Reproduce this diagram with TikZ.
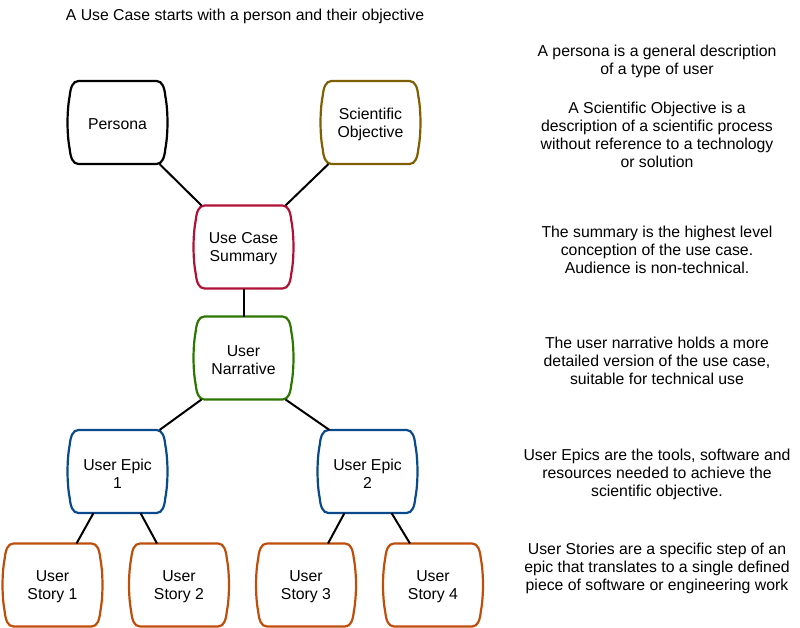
\documentclass[tikz,border=0pt]{standalone}
\usepackage{fontspec}
\setmainfont{Liberation Sans}
\definecolor{cblack}{HTML}{000000}
\definecolor{colive}{HTML}{7F6000}
\definecolor{cred}{HTML}{B01237}
\definecolor{cgreen}{HTML}{2D7600}
\definecolor{cblue}{HTML}{0A4A8C}
\definecolor{corange}{HTML}{BF4E0A}
\tikzset{
  boxframe/.style={draw=none, minimum width=100pt, minimum height=83pt, inner sep=0pt, outer sep=0pt},
  boxline/.style={line width=2.2pt},
  conn/.style={line width=2pt, black},
  note/.style={align=center, font=\fontsize{15.8}{18}\selectfont, inner sep=0pt}
}
\newcommand\ucbox[5]{%
  \node[boxframe] (#1) at (#2,#3) {};
  \node[note] (#1t) at ([shift={(0,2)}]#1.center) {#5};
  \draw[boxline,#4] ([shift={(11,0)}]#1.north west) -- ([shift={(-11,0)}]#1.north east)
    .. controls ([shift={(-5,0)}]#1.north east) and ([shift={(-3,7)}]#1.north east) .. ([shift={(-2.2,15)}]#1.north east)
    .. controls ([shift={(0.7,30)}]#1.north east) and ([shift={(0.7,-30)}]#1.south east) .. ([shift={(-2.2,-15)}]#1.south east)
    .. controls ([shift={(-3,-7)}]#1.south east) and ([shift={(-5,0)}]#1.south east) .. ([shift={(-11,0)}]#1.south east)
    -- ([shift={(11,0)}]#1.south west)
    .. controls ([shift={(5,0)}]#1.south west) and ([shift={(3,-7)}]#1.south west) .. ([shift={(2.2,-15)}]#1.south west)
    .. controls ([shift={(-0.7,-30)}]#1.south west) and ([shift={(-0.7,30)}]#1.north west) .. ([shift={(2.2,15)}]#1.north west)
    .. controls ([shift={(3,7)}]#1.north west) and ([shift={(5,0)}]#1.north west) .. cycle;
}
\begin{document}
\begin{tikzpicture}[x=1pt,y=-1pt]
\useasboundingbox (0,0) rectangle (800,628);
\node[note] (title) at (245,16) {A Use Case starts with a person and their objective};

\ucbox{persona}{117.5}{122.5}{cblack}{Persona}
\ucbox{sciobj}{370.5}{122.5}{colive}{Scientific\\Objective}
\ucbox{summary}{243.5}{247}{cred}{Use Case\\Summary}
\ucbox{narrative}{243.5}{358}{cgreen}{User\\Narrative}
\ucbox{epic1}{117.5}{471.5}{cblue}{User Epic\\1}
\ucbox{epic2}{367.5}{471.5}{cblue}{User Epic\\2}
\ucbox{story1}{52.5}{585}{corange}{User\\Story 1}
\ucbox{story2}{179}{585}{corange}{User\\Story 2}
\ucbox{story3}{306}{585}{corange}{User\\Story 3}
\ucbox{story4}{433}{585}{corange}{User\\Story 4}

\draw[conn] ([xshift=-8pt]persona.south east) -- ([xshift=8pt]summary.north west);
\draw[conn] ([xshift=8pt]sciobj.south west) -- ([xshift=-8pt]summary.north east);
\draw[conn] (summary.south) -- (narrative.north);
\draw[conn] ([xshift=8pt]narrative.south west) -- ([xshift=-8pt]epic1.north east);
\draw[conn] ([xshift=-8pt]narrative.south east) -- ([xshift=12pt]epic2.north west);
\draw[conn] ([xshift=-24pt]epic1.south) -- ([xshift=24pt]story1.north);
\draw[conn] ([xshift=23pt]epic1.south) -- ([xshift=-22pt]story2.north);
\draw[conn] ([xshift=-23pt]epic2.south) -- ([xshift=22pt]story3.north);
\draw[conn] ([xshift=24pt]epic2.south) -- ([xshift=-23pt]story4.north);

\node[note] (n1) at (657,61) {A persona is a general description\\of a type of user};
\node[note] (n2) at (657,135) {A Scientific Objective is a\\description of a scientific process\\without reference to a technology\\or solution};
\node[note] (n3) at (657,250) {The summary is the highest level\\conception of the use case.\\Audience is non-technical.};
\node[note] (n4) at (657,361) {The user narrative holds a more\\detailed version of the use case,\\suitable for technical use};
\node[note] (n5) at (657,474) {User Epics are the tools, software and\\resources needed to achieve the\\scientific objective.};
\node[note] (n6) at (657,568) {User Stories are a specific step of an\\epic that translates to a single defined\\piece of software or engineering work};
\end{tikzpicture}
\end{document}
